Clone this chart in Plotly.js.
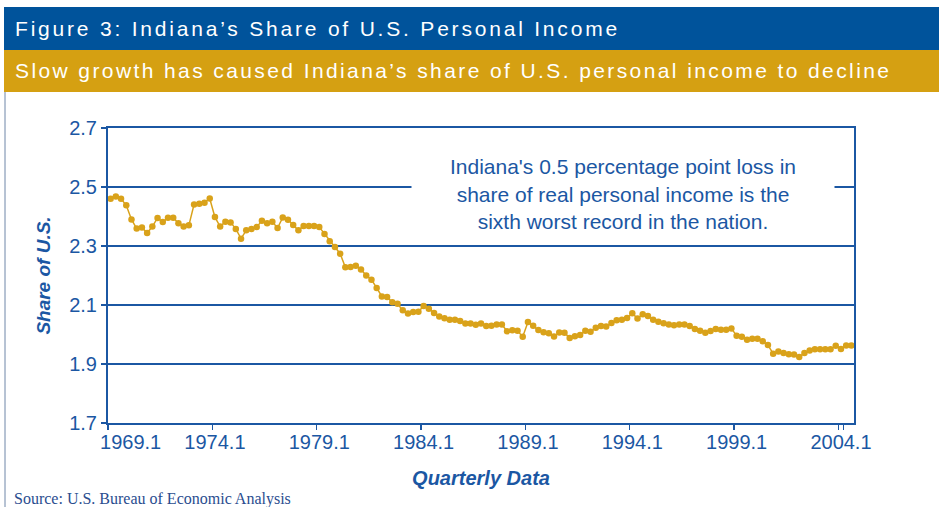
<!DOCTYPE html>
<html><head><meta charset="utf-8">
<script src="https://cdn.plot.ly/plotly-3.0.1.min.js"></script>
<style>
html,body{margin:0;padding:0;background:#fff;overflow:hidden;}
#chart{width:939px;height:507px;}
g.annotation[data-index="0"] text{letter-spacing:2.8px;}
g.annotation[data-index="1"] text{letter-spacing:2.4px;}
/* first x label is nudged right (as in the original) so it clears the y axis */
g.xaxislayer-above g.xtick:first-of-type text{translate:20px 0;}
</style></head>
<body><div id="chart"></div>
<script>
// Indiana's share of U.S. personal income (%), quarterly, 1969.1 - 2004.3
var startYear = 1969;
var share1969_1974 = [2.46, 2.468, 2.46, 2.438, 2.39, 2.359, 2.363, 2.344, 2.366, 2.395, 2.381, 2.396, 2.396, 2.377, 2.366, 2.37, 2.441, 2.443, 2.447, 2.461, 2.398, 2.366];
var share1974_1980 = [2.382, 2.38, 2.358, 2.325, 2.353, 2.358, 2.364, 2.386, 2.377, 2.382, 2.361, 2.397, 2.389, 2.371, 2.353, 2.368, 2.368, 2.368, 2.364, 2.341, 2.316, 2.297, 2.274, 2.228];
var share1980_1985 = [2.229, 2.233, 2.22, 2.20, 2.186, 2.158, 2.129, 2.127, 2.109, 2.104, 2.082, 2.071, 2.076, 2.077, 2.097, 2.087, 2.073, 2.061, 2.055, 2.05, 2.05, 2.046];
var share1986_1991 = [2.037, 2.037, 2.033, 2.037, 2.029, 2.03, 2.034, 2.034, 2.011, 2.014, 2.013, 1.992, 2.042, 2.03, 2.015, 2.008, 2.004, 1.993, 2.007, 2.006, 1.988, 1.994, 1.998, 2.013];
var share1992_1997 = [2.009, 2.023, 2.029, 2.027, 2.039, 2.048, 2.05, 2.056, 2.072, 2.054, 2.069, 2.063, 2.05, 2.043, 2.038, 2.034, 2.031, 2.034, 2.034, 2.029, 2.019, 2.013, 2.006];
var share1997_2004 = [2.012, 2.019, 2.016, 2.016, 2.02, 1.996, 1.992, 1.982, 1.986, 1.986, 1.977, 1.964, 1.935, 1.942, 1.937, 1.933, 1.932, 1.924, 1.937, 1.946, 1.95, 1.95, 1.95, 1.95, 1.962, 1.951, 1.963, 1.963];
var tickLabels = ["1969.1", "1974.1", "1979.1", "1984.1", "1989.1", "1994.1", "1999.1", "2004.1"];

var share = [].concat(share1969_1974, share1974_1980, share1980_1985, share1986_1991, share1992_1997, share1997_2004);
var quarters = [];
for (var i = 0; i < share.length; i++) {
  quarters.push((startYear + Math.floor(i / 4)) + "." + (i % 4 + 1));
}

var BLUE = "#1b57a3";
var GOLD = "#d9a21a";

// plot area in pixels: x 108..854, y 128..423
function px(x){ return (x - 108) / 746; }
function py(y){ return (423 - y) / 295; }

var trace = {
  type: "scatter", mode: "lines+markers",
  x: quarters, y: share,
  line: {color: GOLD, width: 1.5},
  marker: {color: GOLD, size: 6.5},
  hoverinfo: "x+y"
};

var layout = {
  width: 939, height: 507,
  margin: {l: 108, r: 85, t: 128, b: 84, pad: 0},
  paper_bgcolor: "#ffffff", plot_bgcolor: "#ffffff",
  showlegend: false,
  font: {family: "Liberation Sans, Arial, sans-serif", color: BLUE},
  xaxis: {
    type: "category", categoryorder: "array", categoryarray: quarters,
    range: [-0.5, quarters.length - 0.5],
    tickmode: "array", tickvals: tickLabels, ticktext: tickLabels,
    tickson: "boundaries", tickangle: 0,
    ticks: "outside", ticklen: 5, tickwidth: 1.5, tickcolor: BLUE,
    showline: true, linecolor: BLUE, linewidth: 2, mirror: true,
    showgrid: false, zeroline: false,
    tickfont: {size: 20, color: BLUE},
    title: {text: "<b><i>Quarterly Data</i></b>", font: {size: 20, color: BLUE}, standoff: 19},
    automargin: false, fixedrange: true
  },
  yaxis: {
    range: [1.7, 2.7], tick0: 1.7, dtick: 0.2, tickformat: ".1f",
    ticks: "outside", ticklen: 5, tickwidth: 1.5, tickcolor: BLUE,
    showline: true, linecolor: BLUE, linewidth: 2, mirror: true,
    showgrid: true, gridcolor: BLUE, gridwidth: 1.5, zeroline: false,
    tickfont: {size: 20, color: BLUE},
    title: {text: "<b><i>Share of U.S.</i></b>", font: {size: 19, color: BLUE}, standoff: 14},
    automargin: false, fixedrange: true
  },
  shapes: [
    {type: "rect", xref: "paper", yref: "paper", x0: px(4), x1: px(939), y0: py(50), y1: py(7), fillcolor: "#00539b", line: {width: 0}, layer: "above"},
    {type: "rect", xref: "paper", yref: "paper", x0: px(4), x1: px(939), y0: py(92), y1: py(50), fillcolor: "#d5a012", line: {width: 0}, layer: "above"},
    {type: "line", xref: "paper", yref: "paper", x0: px(5), x1: px(5), y0: py(507), y1: py(92), line: {color: "#6f86a8", width: 1}, layer: "above"}
  ],
  annotations: [
    {xref: "paper", yref: "paper", x: px(13), y: py(29), xanchor: "left", yanchor: "middle", align: "left", showarrow: false,
     text: "Figure 3: Indiana\u2019s Share of U.S. Personal Income", font: {size: 21, color: "#ffffff", family: "Liberation Sans, Arial, sans-serif"}},
    {xref: "paper", yref: "paper", x: px(13), y: py(71), xanchor: "left", yanchor: "middle", align: "left", showarrow: false,
     text: "Slow growth has caused Indiana\u2019s share of U.S. personal income to decline", font: {size: 21, color: "#ffffff", family: "Liberation Sans, Arial, sans-serif"}},
    {xref: "paper", yref: "paper", x: px(623), y: py(194), xanchor: "center", yanchor: "middle", showarrow: false,
     text: "Indiana's 0.5 percentage point loss in<br>share of real personal income is the<br>sixth worst record in the nation.",
     align: "center", bgcolor: "#ffffff", width: 420, height: 78,
     font: {size: 21, color: BLUE, family: "Liberation Sans, Arial, sans-serif"}},
    {xref: "paper", yref: "paper", x: px(12), y: py(499), xanchor: "left", yanchor: "middle", showarrow: false,
     text: "Source: U.S. Bureau of Economic Analysis", font: {size: 16, color: "#2a4d8f", family: "Liberation Serif, Times New Roman, serif"}}
  ]
};

Plotly.newPlot("chart", [trace], layout, {displayModeBar: false, staticPlot: true});
</script></body></html>
